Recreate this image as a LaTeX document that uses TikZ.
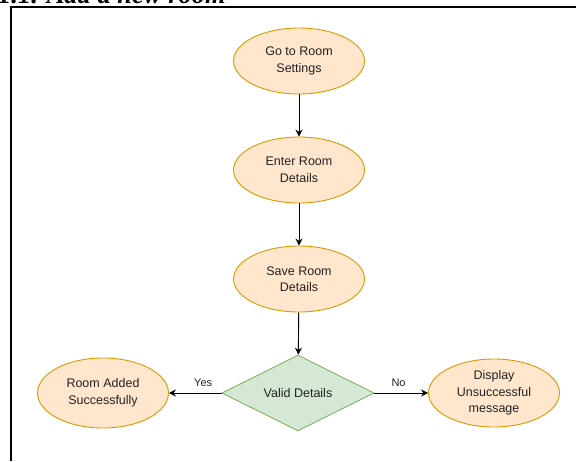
\documentclass[tikz,border=0pt]{standalone}
\usepackage{fontspec}
\setmainfont{Liberation Sans}
\newfontfamily\titlefont{Liberation Serif}
\usetikzlibrary{shapes.geometric,arrows.meta}
\definecolor{ofill}{HTML}{FFE6CC}
\definecolor{odraw}{HTML}{D79B00}
\definecolor{gfill}{HTML}{D5E8D4}
\definecolor{gdraw}{HTML}{82B366}
\definecolor{txt}{HTML}{222222}
\begin{document}
\begin{tikzpicture}[x=1pt,y=-1pt,
  oval/.style={ellipse, draw=odraw, fill=ofill, line width=0.9pt, minimum width=131pt, minimum height=66pt, inner sep=0pt, align=center, font=\fontsize{12.5}{16.5}\selectfont, text=txt},
  decision/.style={diamond, draw=gdraw, fill=gfill, line width=0.9pt, minimum width=152pt, minimum height=76pt, inner sep=0pt, aspect=2, align=center, font=\fontsize{12.5}{16.5}\selectfont, text=txt},
  conn/.style={-{Stealth[length=7pt,width=7pt]}, line width=0.9pt, black},
  lbl/.style={font=\fontsize{11}{13}\selectfont, text=txt}]
\useasboundingbox (0,0) rectangle (576,461);
\clip (0,0) rectangle (576,461);
\node[anchor=base west, inner sep=0pt, font=\titlefont\bfseries\itshape\fontsize{26.5}{30}\selectfont] (title) at (-2,3.5) {1.1. Add a new room};
\coordinate (ftop) at (576,7);
\coordinate (fcorner) at (11,7);
\coordinate (fbot) at (11,461);
\draw[line width=1.3pt] (ftop) -- (fcorner) -- (fbot);
\node[oval] (a) at (299,61) {Go to Room\\Settings};
\node[oval] (b) at (299,170) {Enter Room\\Details};
\node[oval] (c) at (299,279) {Save Room\\Details};
\node[decision] (d) at (298,393) {Valid Details};
\node[oval, minimum height=70pt] (y) at (103,393) {Room Added\\Successfully};
\node[oval, minimum height=68pt] (n) at (494,393) {Display\\Unsuccessful\\message};
\draw[conn] (a) -- (b);
\draw[conn] (b) -- (c);
\draw[conn] (c) -- (d);
\draw[conn] (d.west) -- (y.east) node[lbl, pos=0.35, above=3pt] {Yes};
\draw[conn] (d.east) -- (n.west) node[lbl, pos=0.45, above=3pt] {No};
\end{tikzpicture}
\end{document}
